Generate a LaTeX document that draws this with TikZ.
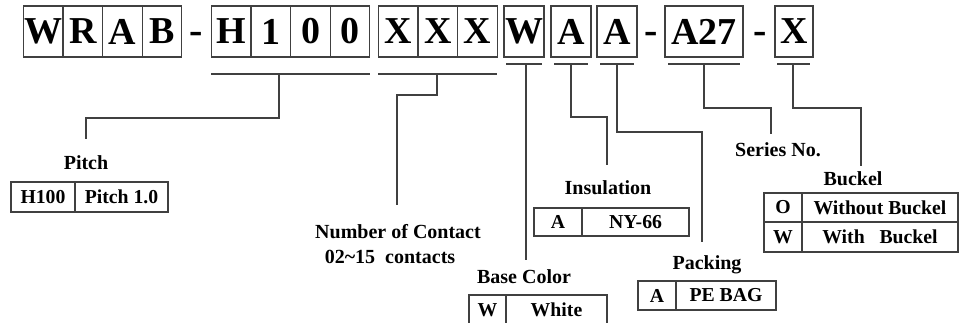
\documentclass[tikz,border=0pt]{standalone}
\usepackage{fontspec}
\setmainfont{Liberation Serif}
\usetikzlibrary{positioning, calc}
\tikzset{
  cell/.style={rectangle, draw=black!75, line width=0.8pt, minimum width=29.8pt,
               minimum height=38.25pt, inner sep=0pt, font=\fontsize{28.5}{30}\selectfont\bfseries},
  sepdash/.style={inner sep=0pt, anchor=base, font=\fontsize{30}{30}\selectfont\bfseries},
  uline/.style={draw=black!75, line width=0.8pt},
  lead/.style={draw=black!75, line width=0.8pt},
  lbl/.style={inner sep=0pt, font=\fontsize{15}{17}\selectfont\bfseries},
  tcell/.style={rectangle, draw=black!75, line width=0.8pt, minimum height=22.5pt,
                inner sep=0pt, font=\fontsize{14.8}{17}\selectfont\bfseries},
}
\begin{document}
\begin{tikzpicture}[x=0.75pt, y=-0.75pt]
  \useasboundingbox (0,0) rectangle (964,323);
  % part number cells
  \foreach \c/\x [count=\i] in {W/43, R/83, A/122.5, B/162}
    \node[cell] (wrab\i) at (\x,31.5) {\c};
  \node[sepdash] (d1) at (196,44) {-};
  \foreach \c/\x [count=\i] in {H/231, 1/271, 0/310.5, 0/350}
    \node[cell] (pitch\i) at (\x,31.5) {\c};
  \foreach \c/\x [count=\i] in {X/398, X/438, X/477.5}
    \node[cell] (cnt\i) at (\x,31.5) {\c};
  \node[cell, minimum width=30pt] (col) at (524,31.5) {W};
  \node[cell, minimum width=30pt] (ins) at (571,31.5) {A};
  \node[cell, minimum width=30pt] (pack) at (617,31.5) {A};
  \node[sepdash] (d2) at (651,44) {-};
  \node[cell, minimum width=58.5pt] (ser) at (704,31.5) {A27};
  \node[sepdash] (d3) at (760,44) {-};
  \node[cell, minimum width=28.5pt] (buck) at (794,31.5) {X};
  % underlines
  \draw[uline] (211,74) -- (370,74);
  \draw[uline] (378,74) -- (497,74);
  \draw[uline] (506,64) -- (542,64);
  \draw[uline] (554,64) -- (588,64);
  \draw[uline] (600,64) -- (634,64);
  \draw[uline] (668,64) -- (740,64);
  \draw[uline] (777,64) -- (810,64);
  \coordinate (u1) at (279,74);
  \coordinate (u2) at (437,74);
  \coordinate (u3) at (526,64);
  \coordinate (u4) at (571,64);
  \coordinate (u5) at (617,64);
  \coordinate (u6) at (704,64);
  \coordinate (u7) at (793,64);
  % labels
  \node[lbl] (lpitch) at (86,163) {Pitch};
  \node[lbl] (lnum) at (398,232) {Number of Contact};
  \node[lbl] (lnum2) at (390,257) {02\textasciitilde15~~contacts};
  \node[lbl] (lcol) at (524,277) {Base Color};
  \node[lbl] (lins) at (608,188) {Insulation};
  \node[lbl] (lpack) at (707,265) {Packing};
  \node[lbl] (lser) at (778,150) {Series No.};
  \node[lbl] (lbuck) at (853,179) {Buckel};
  \coordinate (e1) at (86,139);
  \coordinate (e2) at (397,205);
  \coordinate (e3) at (526,260);
  \coordinate (e4) at (607,165);
  \coordinate (e5) at (702,242);
  \coordinate (e6) at (771,134);
  \coordinate (e7) at (861,166);
  % leads
  \draw[lead] (u1) -- ++(0,44) -| (e1);
  \draw[lead] (u2) -- ++(0,21) -| (e2);
  \draw[lead] (u3) -- (e3);
  \draw[lead] (u4) -- ++(0,53) -| (e4);
  \draw[lead] (u5) -- ++(0,68) -| (e5);
  \draw[lead] (u6) -- ++(0,44) -| (e6);
  \draw[lead] (u7) -- ++(0,44) -| (e7);
  % tables
  \node[tcell, minimum width=48pt] (tp1) at (43,197) {H100};
  \node[tcell, minimum width=69.75pt] (tp2) at (121.5,197) {Pitch 1.0};
  \node[tcell, minimum width=27.75pt] (tc1) at (487.5,310) {W};
  \node[tcell, minimum width=75.75pt] (tc2) at (556.5,310) {White};
  \node[tcell, minimum width=36pt, minimum height=21pt] (ti1) at (558,222) {A};
  \node[tcell, minimum width=80.25pt, minimum height=21pt] (ti2) at (635.5,222) {NY-66};
  \node[tcell, minimum width=28.5pt, minimum height=21.75pt] (tk1) at (657,295.5) {A};
  \node[tcell, minimum width=75pt, minimum height=21.75pt] (tk2) at (726,295.5) {PE BAG};
  \node[tcell, minimum width=28.5pt, minimum height=21.75pt] (tb1) at (783,207.5) {O};
  \node[tcell, minimum width=117pt, minimum height=21.75pt] (tb2) at (880,207.5) {Without Buckel};
  \node[tcell, minimum width=28.5pt, minimum height=22.5pt] (tb3) at (783,237) {W};
  \node[tcell, minimum width=117pt, minimum height=22.5pt] (tb4) at (880,237) {With~~~Buckel};
\end{tikzpicture}
\end{document}
